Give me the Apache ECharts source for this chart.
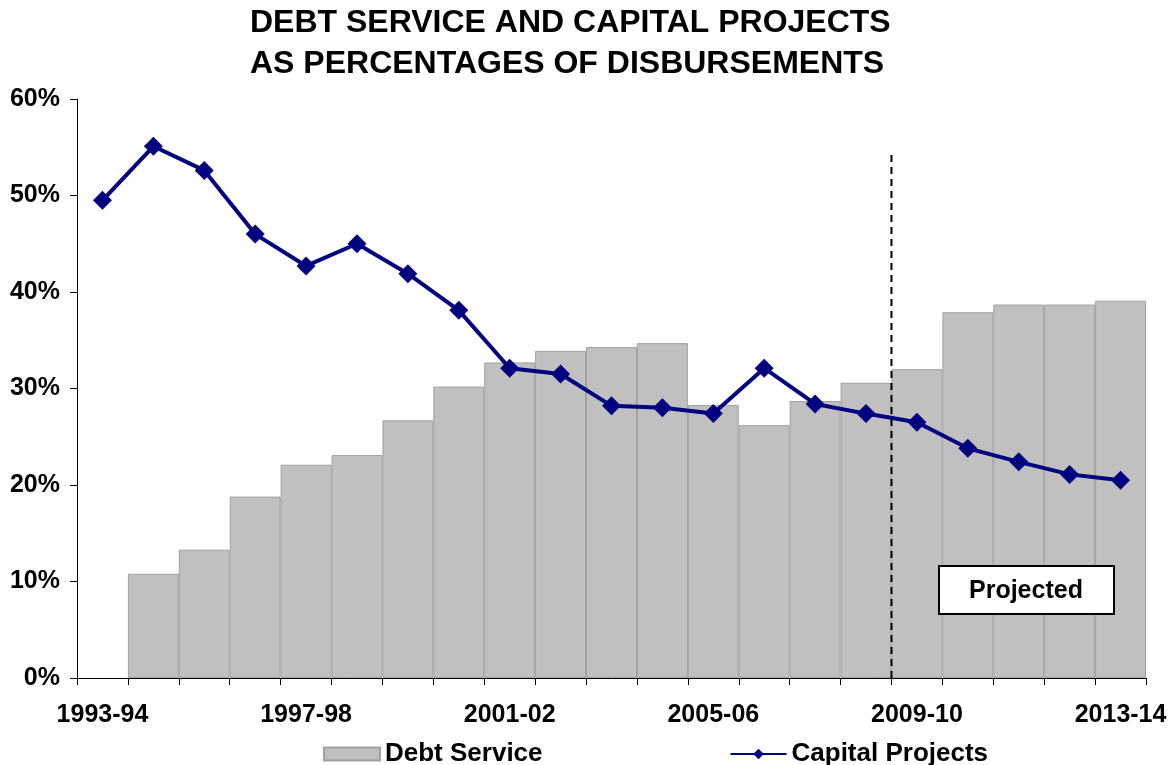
<!DOCTYPE html>
<html>
<head>
<meta charset="utf-8">
<script src="https://cdn.jsdelivr.net/npm/echarts@6/dist/echarts.min.js"></script>
<style>
  html, body { margin: 0; padding: 0; background: #fff; }
  #main { width: 1173px; height: 765px; }
</style>
</head>
<body>
<div id="main"></div>
<script>
// fiscal years on the x axis
const years = [
  "1993-94", "1994-95", "1995-96", "1996-97", "1997-98", "1998-99", "1999-00",
  "2000-01", "2001-02", "2002-03", "2003-04", "2004-05", "2005-06", "2006-07",
  "2007-08", "2008-09", "2009-10", "2010-11", "2011-12", "2012-13", "2013-14"
];

// percent of disbursements
const debtService = [
  null, 10.8, 13.3, 18.8, 22.1, 23.1, 26.7, 30.2, 32.7, 33.9, 34.3,
  34.7, 28.3, 26.2, 28.7, 30.6, 32.0, 37.9, 38.7, 38.7, 39.1
];
const capitalProjects = [
  49.5, 55.1, 52.6, 46.0, 42.7, 45.0, 41.9, 38.1, 32.1, 31.5, 28.2,
  28.0, 27.4, 32.1, 28.4, 27.4, 26.5, 23.8, 22.4, 21.1, 20.5
];

// projected years start at this category boundary
const projectionStart = 16;
const dividerTop = 54.2;

const yTicks = [0, 10, 20, 30, 40, 50, 60];

const font = '"Liberation Sans", Arial, sans-serif';

let chart = echarts.init(document.getElementById("main"));

chart.setOption({
  animation: false,
  textStyle: { fontFamily: font },
  title: {
    text: "DEBT SERVICE AND CAPITAL PROJECTS\nAS PERCENTAGES OF DISBURSEMENTS",
    left: 245,
    top: -2,
    textAlign: "left",
    textStyle: {
      fontFamily: font,
      fontSize: 32,
      fontWeight: "bold",
      color: "#000",
      lineHeight: 41,
      align: "center"
    }
  },
  legend: {
    data: [
      { name: "Debt Service", icon: "rect" },
      { name: "Capital Projects" }
    ],
    left: 318,
    top: 736,
    itemWidth: 56,
    itemHeight: 13,
    itemGap: 187,
    textStyle: { fontFamily: font, fontSize: 26, fontWeight: "bold", color: "#000" }
  },
  grid: { left: 77, right: 27, top: 99, bottom: 87 },
  xAxis: [
    {
      type: "category",
      data: years,
      boundaryGap: true,
      axisLine: { lineStyle: { color: "#000", width: 1 } },
      axisTick: { show: true, interval: 0, length: 7, lineStyle: { color: "#000" } },
      axisLabel: {
        interval: 3,
        margin: 25,
        fontFamily: font,
        fontSize: 25,
        fontWeight: "bold",
        color: "#000"
      },
      splitLine: { show: false }
    },
    { type: "value", min: 0, max: years.length, show: false }
  ],
  yAxis: {
    type: "value",
    min: yTicks[0],
    max: yTicks[yTicks.length - 1],
    interval: 10,
    axisLine: { show: true, lineStyle: { color: "#000", width: 1 } },
    axisTick: { show: true, length: 7, lineStyle: { color: "#000" } },
    axisLabel: {
      formatter: "{value}%",
      margin: 17,
      fontFamily: font,
      fontSize: 25,
      fontWeight: "bold",
      color: "#000"
    },
    splitLine: { show: false }
  },
  series: [
    {
      name: "Debt Service",
      type: "bar",
      data: debtService,
      barCategoryGap: "0%",
      itemStyle: { color: "#C0C0C0", borderColor: "#A0A0A0", borderWidth: 1 }
    },
    {
      name: "Capital Projects",
      type: "line",
      data: capitalProjects,
      symbol: "diamond",
      symbolSize: 19,
      itemStyle: { color: "#000080" },
      lineStyle: { color: "#000080", width: 4 },
      z: 5
    },
    {
      name: "divider",
      type: "line",
      xAxisIndex: 1,
      data: [[projectionStart, 0], [projectionStart, dividerTop]],
      symbol: "none",
      lineStyle: { color: "#000", width: 2, type: [7, 5] },
      z: 4
    }
  ],
  graphic: [
    {
      type: "rect",
      left: 938,
      top: 565,
      z: 100,
      shape: { width: 175, height: 48 },
      style: { fill: "#fff", stroke: "#000", lineWidth: 2 }
    },
    {
      type: "text",
      left: 969,
      top: 579,
      z: 101,
      style: {
        text: "Projected",
        fontFamily: font,
        fontSize: 25,
        fontWeight: "bold",
        fill: "#000"
      }
    }
  ]
});
</script>
</body>
</html>
